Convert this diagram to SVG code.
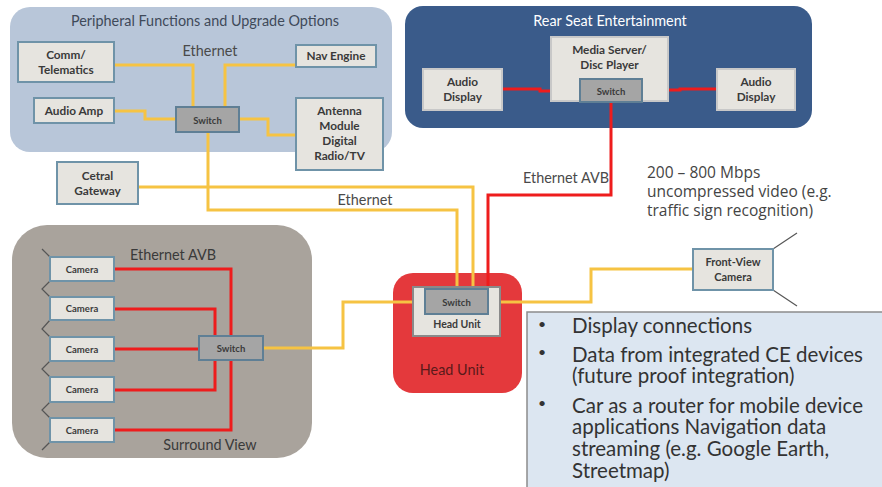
<svg xmlns="http://www.w3.org/2000/svg" width="882" height="487" viewBox="0 0 882 487">
  <style>
    text { font-family: Lato, "Open Sans", "Liberation Sans", sans-serif; }
    .node { fill: #e6e4df; stroke: #6f93a8; stroke-width: 2; }
    .sw { fill: #a5a5a5; stroke: #5f7f95; stroke-width: 2; }
    .lbl { font-size: 11.8px; font-weight: bold; fill: #3a3a3a; text-anchor: middle; }
    .sml { font-size: 9.5px; }
    .eth { fill: none; stroke: #f6c343; stroke-width: 3; stroke-linejoin: miter; }
    .avb { fill: none; stroke: #ee1c1c; stroke-width: 3; stroke-linejoin: miter; }
    .lens { fill: none; stroke: #555555; stroke-width: 1.2; }
    .cap { font-size: 14.4px; fill: #4a4a4a; text-anchor: middle; }
    .note { font-family: "Open Sans", Lato, sans-serif; font-size: 15.5px; fill: #444444; }
    .bul { font-size: 20.5px; fill: #333333; }
    .dot { font-size: 14px; fill: #333333; }
  </style>

  <!-- group backgrounds -->
  <g id="peripheral-zone">
    <rect x="10" y="7" width="382" height="145" rx="20" fill="#b8c6d9"/>
    <text class="cap" x="205" y="26" style="fill:#3f4a5a">Peripheral Functions and Upgrade Options</text>
    <text class="cap" x="210" y="56">Ethernet</text>
  </g>
  <g id="rse-zone">
    <rect x="405" y="6" width="407" height="122" rx="18" fill="#3a5b8a"/>
    <text class="cap" x="610" y="26" style="fill:#ffffff">Rear Seat Entertainment</text>
  </g>
  <g id="surround-zone">
    <rect x="12" y="225" width="300" height="233" rx="35" fill="#a9a39c"/>
    <text class="cap" x="173" y="260" style="fill:#3a3a3a">Ethernet AVB</text>
    <text class="cap" x="210" y="450" style="fill:#3a3a3a">Surround View</text>
  </g>
  <g id="head-unit-zone">
    <rect x="393" y="273" width="129" height="120" rx="20" fill="#e4393c"/>
    <text class="cap" x="452" y="375" style="fill:#5a1a1a">Head Unit</text>
  </g>

  <!-- connectors -->
  <g id="connectors">
    <polyline class="eth" points="114,65 193,65 193,107"/>
    <polyline class="eth" points="296,65 225,65 225,107"/>
    <polyline class="eth" points="114,111 145,111 145,119 176,119"/>
    <polyline class="eth" points="239,119 268,119 268,135 296,135"/>
    <polyline class="eth" points="208,132 208,210 457,210 457,289"/>
    <polyline class="eth" points="138,187 473,187 473,289"/>
    <polyline class="eth" points="263,348 343,348 343,302 425,302"/>
    <polyline class="eth" points="488,302 591,302 591,269 693,269"/>

    <polyline class="avb" points="502,89 540,89 540,91 580,91"/>
    <polyline class="avb" points="642,90 680,90 680,89 717,89"/>
    <polyline class="avb" points="611,102 611,195 488,195 488,289"/>

    <polyline class="avb" points="114,269 231,269 231,336"/>
    <polyline class="avb" points="114,309 215,309 215,336"/>
    <polyline class="avb" points="114,349 199,349"/>
    <polyline class="avb" points="114,390 215,390 215,360"/>
    <polyline class="avb" points="114,430 231,430 231,360"/>

    <text class="cap" x="365" y="205">Ethernet</text>
    <text class="cap" x="566" y="183">Ethernet AVB</text>
  </g>

  <!-- peripheral nodes -->
  <g id="comm-telematics">
    <rect class="node" x="18" y="42" width="96" height="40"/>
    <text class="lbl" x="66" y="59">Comm/</text>
    <text class="lbl" x="66" y="74">Telematics</text>
  </g>
  <g id="nav-engine">
    <rect class="node" x="296" y="45" width="80" height="22"/>
    <text class="lbl" x="336" y="60">Nav Engine</text>
  </g>
  <g id="audio-amp">
    <rect class="node" x="34" y="98" width="80" height="25"/>
    <text class="lbl" x="74" y="115">Audio Amp</text>
  </g>
  <g id="peripheral-switch">
    <rect class="sw" x="176" y="107" width="63" height="25"/>
    <text class="lbl sml" x="207.5" y="124">Switch</text>
  </g>
  <g id="antenna-module">
    <rect class="node" x="296" y="98" width="87" height="72"/>
    <text class="lbl" x="339.5" y="115">Antenna</text>
    <text class="lbl" x="339.5" y="130">Module</text>
    <text class="lbl" x="339.5" y="145">Digital</text>
    <text class="lbl" x="339.5" y="160">Radio/TV</text>
  </g>
  <g id="central-gateway">
    <rect class="node" x="57" y="162" width="81" height="42"/>
    <text class="lbl" x="97.5" y="180">Cetral</text>
    <text class="lbl" x="97.5" y="195">Gateway</text>
  </g>

  <!-- rear seat entertainment nodes -->
  <g id="audio-display-left">
    <rect class="node" x="423" y="69" width="79" height="41" style="stroke:#c8c8c8"/>
    <text class="lbl" x="462.5" y="86">Audio</text>
    <text class="lbl" x="462.5" y="101">Display</text>
  </g>
  <g id="media-server">
    <rect class="node" x="551" y="37" width="117" height="64" style="stroke:#c8c8c8"/>
    <text class="lbl" x="609.5" y="54">Media Server/</text>
    <text class="lbl" x="609.5" y="69">Disc Player</text>
  </g>
  <g id="rse-switch">
    <rect class="sw" x="580" y="79" width="62" height="23"/>
    <text class="lbl sml" x="611" y="95">Switch</text>
  </g>
  <g id="audio-display-right">
    <rect class="node" x="717" y="69" width="78" height="41" style="stroke:#c8c8c8"/>
    <text class="lbl" x="756" y="86">Audio</text>
    <text class="lbl" x="756" y="101">Display</text>
  </g>

  <!-- surround view cameras -->
  <g id="camera-lenses">
    <polyline class="lens" points="42,249 50,257"/>
    <polyline class="lens" points="50,281 42,289 50,297"/>
    <polyline class="lens" points="50,320 42,329 50,337"/>
    <polyline class="lens" points="50,361 42,369 50,377"/>
    <polyline class="lens" points="50,402 42,410 50,418"/>
    <polyline class="lens" points="50,442 42,450"/>
  </g>
  <g id="camera-1">
    <rect class="node" x="50" y="257" width="64" height="24"/>
    <text class="lbl sml" x="82" y="273">Camera</text>
  </g>
  <g id="camera-2">
    <rect class="node" x="50" y="297" width="64" height="23"/>
    <text class="lbl sml" x="82" y="312">Camera</text>
  </g>
  <g id="camera-3">
    <rect class="node" x="50" y="337" width="64" height="24"/>
    <text class="lbl sml" x="82" y="353">Camera</text>
  </g>
  <g id="camera-4">
    <rect class="node" x="50" y="377" width="64" height="25"/>
    <text class="lbl sml" x="82" y="393">Camera</text>
  </g>
  <g id="camera-5">
    <rect class="node" x="50" y="418" width="64" height="24"/>
    <text class="lbl sml" x="82" y="434">Camera</text>
  </g>
  <g id="surround-switch">
    <rect class="sw" x="199" y="336" width="64" height="24"/>
    <text class="lbl sml" x="231" y="352">Switch</text>
  </g>

  <!-- head unit -->
  <g id="head-unit">
    <rect class="node" x="413" y="287" width="87" height="49" style="stroke:#8a8a8a"/>
    <rect class="sw" x="425" y="289" width="63" height="25"/>
    <text class="lbl sml" x="456.5" y="306">Switch</text>
    <text class="lbl" x="457" y="328" style="font-size:10.5px">Head Unit</text>
  </g>

  <!-- front-view camera -->
  <g id="front-view-camera">
    <line class="lens" x1="773" y1="249" x2="797" y2="233"/>
    <line class="lens" x1="773" y1="290" x2="797" y2="306"/>
    <rect class="node" x="693" y="249" width="80" height="41"/>
    <text class="lbl" x="733" y="266" style="font-size:11px">Front-View</text>
    <text class="lbl" x="733" y="281" style="font-size:11px">Camera</text>
  </g>

  <g id="video-note">
    <text class="note" x="647" y="178">200 – 800 Mbps</text>
    <text class="note" x="647" y="197">uncompressed video (e.g.</text>
    <text class="note" x="647" y="216">traffic sign recognition)</text>
  </g>

  <!-- feature list -->
  <g id="feature-list">
    <rect x="527" y="312" width="360" height="180" fill="#dce6f1" stroke="#8c8c8c" stroke-width="1.5"/>
    <text class="dot" x="538" y="329">•</text>
    <text class="bul" x="572" y="333">Display connections</text>
    <text class="dot" x="538" y="357">•</text>
    <text class="bul" x="572" y="362">Data from integrated CE devices</text>
    <text class="bul" x="572" y="383">(future proof integration)</text>
    <text class="dot" x="538" y="408">•</text>
    <text class="bul" x="572" y="413">Car as a router for mobile device</text>
    <text class="bul" x="572" y="434">applications Navigation data</text>
    <text class="bul" x="572" y="456">streaming (e.g. Google Earth,</text>
    <text class="bul" x="572" y="478">Streetmap)</text>
  </g>
</svg>
